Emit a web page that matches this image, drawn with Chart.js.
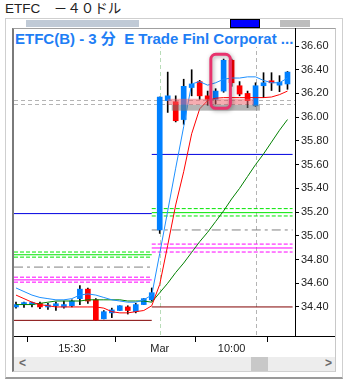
<!DOCTYPE html>
<html><head><meta charset="utf-8">
<script src="https://cdn.jsdelivr.net/npm/chart.js@4.4.1/dist/chart.umd.min.js"></script>
<style>
html,body{margin:0;padding:0;background:#fff;width:346px;height:383px;overflow:hidden;font-family:"Liberation Sans",Arial,sans-serif;}
.abs{position:absolute;box-sizing:border-box;}
#cv{position:absolute;left:0;top:0;z-index:1;}
#ptitle{z-index:2;}
</style></head><body>
<div class="abs" style="left:5px;top:1px;font-size:13.5px;color:#222;font-family:'Liberation Sans','Noto Sans CJK JP',sans-serif;line-height:16px;white-space:pre">ETFC　－４０ドル</div>
<div class="abs" style="left:5px;top:18px;width:338px;height:361px;border:1px solid #cfcfcf;border-bottom:2px solid #9a9a9a;"></div>
<div class="abs" style="left:26px;top:20px;width:113px;height:7px;background:#c0cad6"></div>
<div class="abs" style="left:230px;top:19px;width:30px;height:9px;background:#0000ff;border:1px solid #000"></div>
<div class="abs" style="left:280px;top:20px;width:30px;height:7px;background:#bdbdbd"></div>
<div class="abs" style="left:12px;top:28px;width:324px;height:344px;border-top:1px solid #a0a0a0;border-left:2px solid #7a7a7a;border-right:1px solid #c8c8c8;border-bottom:1px solid #d0d0d0;"></div>
<div class="abs" style="left:14px;top:357px;width:321px;height:14px;background:#ededed"></div>
<div class="abs" style="left:251px;top:357px;width:17px;height:14px;background:#c8c8c8"></div>
<div class="abs" style="left:19px;top:356px;font-size:12px;font-weight:bold;color:#6a6a6a;line-height:14px">&lt;</div>
<div class="abs" style="left:325px;top:356px;font-size:12px;font-weight:bold;color:#6a6a6a;line-height:14px">&gt;</div>
<canvas id="cv" width="346" height="383"></canvas>
<div id="ptitle" class="abs" style="left:15px;top:30px;width:279px;height:17px;background:#fff;font-size:15px;font-weight:bold;color:#1e7ef5;line-height:17px;white-space:pre;overflow:hidden;font-family:'Liberation Sans','Noto Sans CJK JP',sans-serif">ETFC(B) - 3 分  E Trade Finl Corporat ...</div>
<script>
// ---- data ----
const times = ["15:09","15:12","15:15","15:18","15:21","15:24","15:27","15:30","15:33","15:36","15:39","15:42","15:45","15:48","15:51","15:54","15:57","16:00",
  "9:33","9:36","9:39","9:42","9:45","9:48","9:51","9:54","9:57","10:00","10:03","10:06","10:09","10:12","10:15","10:18","10:21"];
const tickTimes = ["15:30","9:33","10:00"];
const tickText = ["15:30","Mar","10:00"];
const yTicks = [34.40,34.60,34.80,35.00,35.20,35.40,35.60,35.80,36.00,36.20,36.40,36.60];

const openP  = [34.40,34.42,34.42,34.43,34.40,34.41,34.40,34.41,34.47,34.55,34.46,34.30,34.35,34.37,34.40,34.36,34.42,34.46,
  35.05,36.14,36.13,35.98,36.25,36.30,36.18,36.15,36.22,36.48,36.265,36.20,36.095,36.265,36.30,36.27,36.28];
const highP  = [34.44,34.44,34.44,34.44,34.43,34.44,34.45,34.46,34.58,34.56,34.47,34.37,34.39,34.41,34.41,34.43,34.47,34.56,
  36.17,36.38,36.18,36.32,36.40,36.31,36.22,36.24,36.49,36.49,36.30,36.22,36.29,36.375,36.375,36.35,36.385];
const lowP   = [34.39,34.395,34.40,34.385,34.38,34.37,34.39,34.40,34.42,34.43,34.29,34.30,34.31,34.37,34.34,34.35,34.42,34.45,
  35.02,36.04,35.96,35.94,36.18,36.15,36.10,36.11,36.21,36.26,36.18,36.08,36.09,36.165,36.225,36.215,36.235];
const closeP = [34.42,34.43,34.43,34.40,34.41,34.42,34.42,34.45,34.55,34.45,34.29,34.36,34.375,34.41,34.37,34.42,34.47,34.52,
  36.17,36.18,35.97,36.26,36.28,36.18,36.15,36.22,36.48,36.29,36.195,36.14,36.265,36.29,36.29,36.295,36.38];

const maFast = [34.56,34.53,34.50,34.48,34.47,34.46,34.46,34.47,34.50,34.51,34.50,34.48,34.46,34.45,34.44,34.44,34.46,34.50,
  34.85,35.21,35.57,35.92,36.28,36.30,36.27,36.29,36.32,36.33,36.33,36.34,36.34,36.31,36.29,36.29,36.33];
const maMid = [34.50,34.47,34.44,34.42,34.41,34.40,34.40,34.40,34.40,34.40,34.40,34.39,34.36,34.35,34.35,34.36,34.37,34.41,
  34.59,34.92,35.26,35.54,35.86,36.07,36.14,36.16,36.165,36.165,36.165,36.165,36.165,36.165,36.17,36.19,36.22];
const maSlow = [34.42,34.42,34.42,34.43,34.44,34.45,34.45,34.45,34.45,34.46,34.46,34.46,34.46,34.46,34.45,34.45,34.45,34.44,
  34.52,34.60,34.69,34.77,34.86,34.95,35.03,35.12,35.21,35.31,35.40,35.50,35.60,35.69,35.79,35.89,35.98];

// price levels: [blue, green+, green, green-, gray, magenta+, magenta, magenta-, maroon]
const levelsPrev  = [35.187,34.863,34.840,34.820,34.736,34.651,34.628,34.609,34.287];
const levelsToday = [35.686,35.229,35.195,35.167,35.049,34.930,34.897,34.863,34.400];
const refLevels = [36.149,36.107];
const vGridTimes = ["9:33","10:09"];
const bandIdx = [19.0,29.8], bandPrice = [36.105,36.155];
const boxIdx = [24.4,26.85], boxPrice = [36.075,36.53];

// ---- styles ----
const levelStyles = [
  {c:'#0000e0',d:[]},{c:'#00e600',d:[4,2]},{c:'#00e600',d:[]},{c:'#00e600',d:[4,2]},
  {c:'#808080',d:[9,4,3,4]},{c:'#ff00ff',d:[4,2]},{c:'#ff00ff',d:[]},{c:'#ff00ff',d:[4,2]},{c:'#800000',d:[]}
];
const vGridColors = ['#b8dcb8','#b4b4b4'];
const X_MIN = -0.25, X_MAX = 34.94, Y_MIN = 34.155, Y_MAX = 36.735;
const UP = '#0080ff', DOWN = '#ff0000';

const lastPrev = times.indexOf("16:00");
const datasets = [];
levelStyles.forEach((s,k)=>{
  datasets.push({type:'line',data:[{x:X_MIN,y:levelsPrev[k]},{x:lastPrev,y:levelsPrev[k]}],borderColor:s.c,borderDash:s.d,borderWidth:1,pointRadius:0,order:10});
  datasets.push({type:'line',data:[{x:lastPrev,y:levelsToday[k]},{x:X_MAX-0.3,y:levelsToday[k]}],borderColor:s.c,borderDash:s.d,borderWidth:1,pointRadius:0,order:10});
});
datasets.push({type:'bar',data:times.map((t,i)=>({x:i,y:[lowP[i],highP[i]]})),backgroundColor:'#000',barThickness:1,grouped:false,order:6});
datasets.push({type:'bar',data:times.map((t,i)=>({x:i,y:[Math.min(openP[i],closeP[i]),Math.max(openP[i],closeP[i])]})),
  backgroundColor:times.map((t,i)=>closeP[i]>=openP[i]?UP:DOWN),barThickness:5,minBarLength:2,grouped:false,borderSkipped:false,order:5});
const maLine=(arr,c,o)=>({type:'line',data:arr.map((v,i)=>({x:i,y:v})),borderColor:c,borderWidth:1,pointRadius:0,tension:0,order:o});
datasets.push(maLine(maSlow,'#008000',3));
datasets.push(maLine(maMid,'#ff0000',2));
datasets.push(maLine(maFast,'#1e90ff',1));

const overlay = {
  id:'overlay',
  beforeDatasetsDraw(chart){
    const {ctx,chartArea:a,scales:{x,y}} = chart;
    ctx.save(); ctx.lineWidth=1; ctx.setLineDash([4,3]);
    ctx.strokeStyle='#b4b4b4';
    refLevels.forEach(v=>{const py=Math.round(y.getPixelForValue(v))+0.5;ctx.beginPath();ctx.moveTo(a.left,py);ctx.lineTo(a.right,py);ctx.stroke();});
    vGridTimes.forEach((t,k)=>{const px=Math.round(x.getPixelForValue(times.indexOf(t)))+0.5;ctx.strokeStyle=vGridColors[k];ctx.beginPath();ctx.moveTo(px,a.top);ctx.lineTo(px,a.bottom);ctx.stroke();});
    ctx.restore();
  },
  afterDatasetsDraw(chart){
    const {ctx,scales:{x,y}} = chart;
    ctx.save();
    const bx0=x.getPixelForValue(bandIdx[0]), bx1=x.getPixelForValue(bandIdx[1]);
    const by0=y.getPixelForValue(bandPrice[1]), by1=y.getPixelForValue(bandPrice[0]);
    ctx.fillStyle='rgba(120,120,120,0.55)';
    ctx.fillRect(bx0+4,by1,bx1-bx0+2,(by1-by0));
    ctx.fillStyle='rgba(238,95,105,0.52)';
    ctx.fillRect(bx0,by0,bx1-bx0,by1-by0);
    const hx0=x.getPixelForValue(boxIdx[0]), hx1=x.getPixelForValue(boxIdx[1]);
    const hy0=y.getPixelForValue(boxPrice[1]), hy1=y.getPixelForValue(boxPrice[0]);
    ctx.shadowColor='rgba(0,0,0,0.35)'; ctx.shadowBlur=4; ctx.shadowOffsetX=1; ctx.shadowOffsetY=1;
    ctx.strokeStyle='#e8336d'; ctx.lineWidth=3;
    ctx.beginPath(); ctx.roundRect(hx0,hy0,hx1-hx0,hy1-hy0,5); ctx.stroke();
    ctx.restore();
  },
  afterDraw(chart){
    const {ctx,chartArea:a} = chart;
    ctx.save(); ctx.strokeStyle='#000'; ctx.lineWidth=1;
    ctx.beginPath(); ctx.moveTo(a.right,a.bottom+0.5); ctx.lineTo(335,a.bottom+0.5); ctx.stroke();
    ctx.beginPath(); ctx.moveTo(a.right+0.5,28); ctx.lineTo(a.right+0.5,a.top); ctx.stroke();
    ctx.restore();
  }
};

new Chart(document.getElementById('cv'),{
  type:'bar',
  data:{datasets},
  plugins:[overlay],
  options:{
    responsive:false, animation:false, devicePixelRatio:1,
    layout:{padding:{left:14,top:30,right:11,bottom:27}},
    plugins:{legend:{display:false},tooltip:{enabled:false},title:{display:false}},
    scales:{
      x:{type:'linear',min:X_MIN,max:X_MAX,offset:false,
        afterBuildTicks:s=>{s.ticks=tickTimes.map(t=>({value:times.indexOf(t)}));},
        afterFit:s=>{s.height=20;},
        grid:{display:true,drawOnChartArea:false,drawTicks:true,tickLength:6,color:'#000'},
        border:{display:true,color:'#000',width:1},
        ticks:{autoSkip:false,maxRotation:0,padding:0,color:'#222',font:{family:"'Liberation Sans',Arial",size:11},callback:(v,i)=>tickText[i]}},
      y:{type:'linear',position:'right',min:Y_MIN,max:Y_MAX,
        afterBuildTicks:s=>{s.ticks=yTicks.map(v=>({value:v}));},
        afterFit:s=>{s.width=40;},
        grid:{display:true,drawOnChartArea:false,drawTicks:true,tickLength:4,color:'#000'},
        border:{display:true,color:'#000',width:1},
        ticks:{padding:2,color:'#222',font:{family:"'Liberation Sans',Arial",size:11},callback:v=>v.toFixed(2)}}
    }
  }
});
</script>
</body></html>
